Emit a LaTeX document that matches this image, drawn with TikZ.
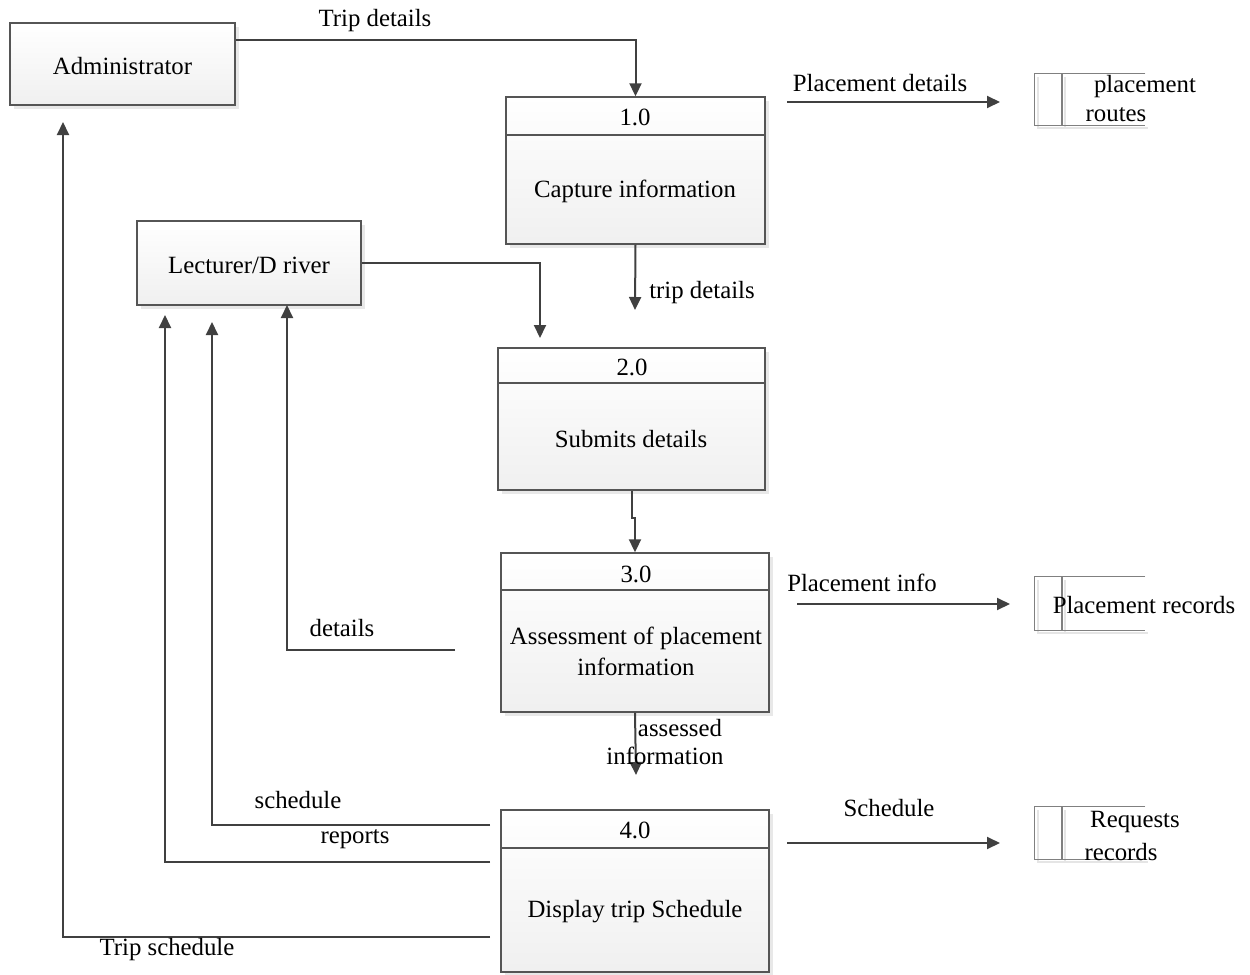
\documentclass[tikz,border=0pt]{standalone}
\usepackage{fontspec}
\setmainfont{Liberation Serif}
\usetikzlibrary{arrows.meta,fit,shadows}
\definecolor{edge}{HTML}{404040}
\definecolor{frame}{HTML}{555555}
\definecolor{storeline}{HTML}{808080}
\begin{document}
\begin{tikzpicture}[x=0.5pt,y=-0.5pt,
  font=\fontsize{12.4}{15}\selectfont,
  box/.style={draw=frame,line width=0.7pt,inner sep=0pt,
    top color=white,bottom color=black!6,
    drop shadow={shadow xshift=2pt,shadow yshift=-2pt,fill=black!9,opacity=1}},
  storebox/.style={inner sep=0pt},
  storeln/.style={draw=storeline,line width=0.8pt},
  flow/.style={draw=edge,line width=1pt,-{Triangle[length=6.5pt,width=6pt]}},
  lbl/.style={inner sep=0pt,anchor=center,text=black}]
\useasboundingbox (0,0) rectangle (1250,975);

% external entities
\node[box,fit={(10,23) (235,105)}] (adm) {};
\node[lbl] at ([yshift=-1pt]adm.center) {Administrator};
\node[box,fit={(137,221) (361,305)}] (lec) {};
\node[lbl] at ([yshift=-1pt]lec.center) {Lecturer/D river};

% processes
\node[box,fit={(506,97) (765,244)}] (p1) {};
\draw[frame,line width=0.7pt] (506,135) -- (765,135);
\node[lbl] at (635,117) {1.0};
\node[lbl] at (635,191) {Capture information};

\node[box,fit={(498,348) (765,490)}] (p2) {};
\draw[frame,line width=0.7pt] (498,383) -- (765,383);
\node[lbl] at (632,367) {2.0};
\node[lbl] at (631,439) {Submits details};

\node[box,fit={(501,553) (769,712)}] (p3) {};
\draw[frame,line width=0.7pt] (501,590) -- (769,590);
\node[lbl] at (636,574) {3.0};
\node[lbl] at (636,638) {Assessment of placement};
\node[lbl] at (636,667) {information};

\node[box,fit={(501,810) (769,972)}] (p4) {};
\draw[frame,line width=0.7pt] (501,848) -- (769,848);
\node[lbl] at (635,830) {4.0};
\node[lbl] at (635,912) {Display trip Schedule};

% data stores
\foreach \nm/\t/\b in {ds1/74/125, ds2/577/630, ds3/807/859}{
  \node[storebox,fit={(1035,\t) (1145,\b)}] (\nm) {};
  \draw[black!10,line width=0.6pt] (1038,\t+3) -- (1038,\b+3) -- (1148,\b+3);
  \draw[black!10,line width=0.6pt] (1065,\t+3) -- (1065,\b+3);
  \draw[storeln] (\nm.north east) -- (\nm.north west) -- (\nm.south west) -- (\nm.south east);
  \draw[storeln] (1062,\t) -- (1062,\b);
}
\node[lbl] at (1145,87) {placement};
\node[lbl] at (1116,115) {routes};
\node[lbl] at (1144,605) {Placement records};
\node[lbl] at (1135,822) {Requests};
\node[lbl] at (1121,852) {records};

% loose ends of the flows
\coordinate (pdA) at (787,102);  \coordinate (pdB) at (1000,102);
\coordinate (tdB) at (635,310);
\coordinate (lcB) at (540,338);
\coordinate (dtA) at (455,650);  \coordinate (dtB) at (287,305);
\coordinate (piA) at (797,604);  \coordinate (piB) at (1010,604);
\coordinate (aiB) at (636,775);
\coordinate (scA) at (490,825);  \coordinate (scB) at (212,322);
\coordinate (rpA) at (490,862);  \coordinate (rpB) at (165,315);
\coordinate (tsA) at (490,937);  \coordinate (tsB) at (63,122);
\coordinate (shA) at (787,843);  \coordinate (shB) at (1000,843);

% flows
\draw[flow] ([yshift=12pt]adm.east) -| (p1.north);
\node[lbl] at (375,21) {Trip details};

\draw[flow] (pdA) -- (pdB);
\node[lbl] at (880,83) {Placement details};

\draw[flow] (p1.south) -- (tdB);
\node[lbl] at (702,293) {trip details};

\draw[flow] (lec.east) -| (lcB);

\draw[flow] ([xshift=0.25pt]p2.south) -- ++(0,27) -| (p3.north);

\draw[flow] (dtA) -| (dtB);
\node[lbl] at (342,628) {details};

\draw[flow] (piA) -- (piB);
\node[lbl] at (862,583) {Placement info};

\draw[flow] (p3.south) -- (aiB);
\node[lbl] at (680,728) {assessed};
\node[lbl] at (665,756) {information};

\draw[flow] (scA) -| (scB);
\node[lbl] at (298,800) {schedule};

\draw[flow] (rpA) -| (rpB);
\node[lbl] at (355,839) {reports};

\draw[flow] (tsA) -| (tsB);
\node[lbl] at (167,950) {Trip schedule};

\draw[flow] (shA) -- (shB);
\node[lbl] at (889,808) {Schedule};
\end{tikzpicture}
\end{document}
